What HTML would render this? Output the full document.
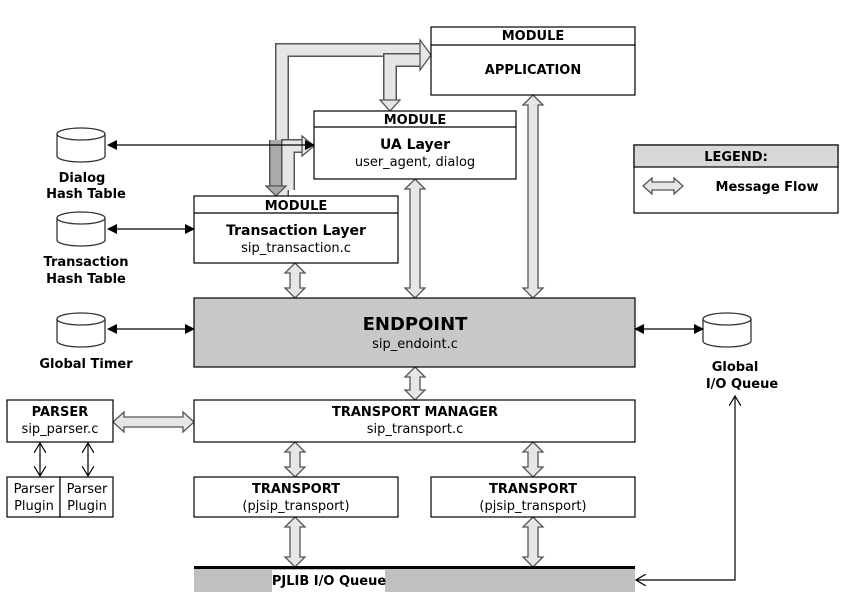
<!DOCTYPE html>
<html><head><meta charset="utf-8"><style>
html,body{margin:0;padding:0;background:#fff}
svg{display:block}
text{font-family:"DejaVu Sans","Liberation Sans",sans-serif;fill:#000}
.b{font-weight:bold}
</style></head><body>
<svg width="844" height="606" viewBox="0 0 844 606" xmlns="http://www.w3.org/2000/svg">
<defs>
<marker id="ah" markerWidth="10" markerHeight="10" refX="9" refY="5" orient="auto-start-reverse" markerUnits="userSpaceOnUse">
<path d="M0,0 L10,5 L0,10 z" fill="#000"/></marker>
<marker id="ao" markerWidth="12" markerHeight="12" refX="10" refY="6" orient="auto-start-reverse" markerUnits="userSpaceOnUse">
<path d="M0,0 L10,6 L0,12" fill="none" stroke="#000" stroke-width="1.2"/></marker>
<g id="cyl">
<path d="M0,6 L0,28 A24,6 0 0 0 48,28 L48,6" fill="#fff" stroke="#333" stroke-width="1.3"/>
<ellipse cx="24" cy="6" rx="24" ry="6" fill="#fff" stroke="#333" stroke-width="1.3"/>
</g>
</defs>

<!-- elbow fat arrows -->
<g fill="none" stroke-linejoin="miter">
<path d="M282,196 L282,50 L420,50" stroke="#555" stroke-width="14"/>
<path d="M282,196 L282,50 L420,50" stroke="#e6e6e6" stroke-width="11"/>
<path d="M390,104 L390,60 L420,60" stroke="#555" stroke-width="14"/>
<path d="M390,104 L390,60 L420,60" stroke="#e6e6e6" stroke-width="11"/>
<path d="M276,188 L276,140" stroke="#555" stroke-width="14"/>
<path d="M276,188 L276,140" stroke="#aaa" stroke-width="11"/>
<path d="M288,190 L288,146 L304,146" stroke="#555" stroke-width="14"/>
<path d="M288,190 L288,146 L304,146" stroke="#e6e6e6" stroke-width="11"/>
</g>
<polygon points="420,40 431,55 420,70" fill="#e6e6e6" stroke="#555" stroke-width="1.3"/>
<polygon points="380,100 400,100 390,111" fill="#e6e6e6" stroke="#555" stroke-width="1.3"/>
<polygon points="266,186 286,186 276,196" fill="#aaa" stroke="#555" stroke-width="1.3"/>
<polygon points="302,136 314,146 302,156" fill="#e6e6e6" stroke="#555" stroke-width="1.3"/>

<!-- vertical double fat arrows -->
<g fill="#e6e6e6" stroke="#555" stroke-width="1.3">
<polygon points="295,263 305,273 300,273 300,288 305,288 295,298 285,288 290,288 290,273 285,273"/>
<polygon points="415,179 425,189 420,189 420,288 425,288 415,298 405,288 410,288 410,189 405,189"/>
<polygon points="533,95 543,105 538,105 538,288 543,288 533,298 523,288 528,288 528,105 523,105"/>
<polygon points="415,367 425,377 420,377 420,390 425,390 415,400 405,390 410,390 410,377 405,377"/>
<polygon points="295,442 305,452 300,452 300,467 305,467 295,477 285,467 290,467 290,452 285,452"/>
<polygon points="533,442 543,452 538,452 538,467 543,467 533,477 523,467 528,467 528,452 523,452"/>
<polygon points="295,517 305,527 300,527 300,557 305,557 295,567 285,557 290,557 290,527 285,527"/>
<polygon points="533,517 543,527 538,527 538,557 543,557 533,567 523,557 528,557 528,527 523,527"/>
<polygon points="113,422 124,412 124,417 183,417 183,412 194,422 183,432 183,427 124,427 124,432"/>
</g>

<!-- boxes -->
<g fill="#fff" stroke="#000" stroke-width="1.2">
<rect x="431" y="27" width="204" height="68"/><line x1="431" y1="45" x2="635" y2="45"/>
<rect x="314" y="111" width="202" height="68"/><line x1="314" y1="127" x2="516" y2="127"/>
<rect x="194" y="196" width="204" height="67"/><line x1="194" y1="213" x2="398" y2="213"/>
<rect x="194" y="298" width="441" height="69" fill="#c8c8c8"/>
<rect x="194" y="400" width="441" height="42"/>
<rect x="7" y="400" width="106" height="42"/>
<rect x="7" y="477" width="53" height="40"/><rect x="60" y="477" width="53" height="40"/>
<rect x="194" y="477" width="204" height="40"/>
<rect x="431" y="477" width="204" height="40"/>
<rect x="634" y="145" width="204" height="68"/>
<rect x="634" y="145" width="204" height="22" fill="#d8d8d8"/>
</g>
<polygon points="643,186 652,178 652,182 674,182 674,178 683,186 674,194 674,190 652,190 652,194" fill="#e6e6e6" stroke="#555" stroke-width="1.3"/>
<rect x="194" y="568" width="441" height="24" fill="#c0c0c0"/>
<rect x="194" y="566" width="441" height="3" fill="#000"/>
<rect x="272" y="570" width="113" height="22" fill="#fff"/>

<!-- cylinders -->
<use href="#cyl" x="57" y="128"/>
<use href="#cyl" x="57" y="212"/>
<use href="#cyl" x="57" y="313"/>
<use href="#cyl" x="703" y="313"/>

<!-- thin arrows -->
<g stroke="#000" stroke-width="1.2" fill="none">
<line x1="108" y1="145" x2="314" y2="145" marker-start="url(#ah)" marker-end="url(#ah)"/>
<line x1="108" y1="229" x2="194" y2="229" marker-start="url(#ah)" marker-end="url(#ah)"/>
<line x1="108" y1="329" x2="194" y2="329" marker-start="url(#ah)" marker-end="url(#ah)"/>
<line x1="635" y1="329" x2="703" y2="329" marker-start="url(#ah)" marker-end="url(#ah)"/>
<polyline points="735,396 735,580 636,580" marker-start="url(#ao)" marker-end="url(#ao)"/>
<line x1="40" y1="443" x2="40" y2="476" marker-start="url(#ao)" marker-end="url(#ao)"/>
<line x1="88" y1="443" x2="88" y2="476" marker-start="url(#ao)" marker-end="url(#ao)"/>
</g>

<!-- text -->
<g text-anchor="middle" font-size="13">
<text x="533" y="40" class="b">MODULE</text>
<text x="533" y="74" class="b">APPLICATION</text>
<text x="415" y="124" class="b">MODULE</text>
<text x="415" y="149" class="b" font-size="14">UA Layer</text>
<text x="415" y="166">user_agent, dialog</text>
<text x="296" y="210" class="b">MODULE</text>
<text x="296" y="235" class="b" font-size="14">Transaction Layer</text>
<text x="296" y="252">sip_transaction.c</text>
<text x="415" y="330" class="b" font-size="18">ENDPOINT</text>
<text x="415" y="348">sip_endoint.c</text>
<text x="415" y="416" class="b">TRANSPORT MANAGER</text>
<text x="415" y="433">sip_transport.c</text>
<text x="60" y="416" class="b">PARSER</text>
<text x="60" y="433">sip_parser.c</text>
<text x="34" y="493">Parser</text><text x="34" y="510">Plugin</text>
<text x="87" y="493">Parser</text><text x="87" y="510">Plugin</text>
<text x="296" y="493" class="b">TRANSPORT</text>
<text x="296" y="510">(pjsip_transport)</text>
<text x="533" y="493" class="b">TRANSPORT</text>
<text x="533" y="510">(pjsip_transport)</text>
<text x="329" y="585" class="b">PJLIB I/O Queue</text>
<text x="736" y="161" class="b">LEGEND:</text>
<text x="767" y="191" class="b">Message Flow</text>
<text x="82" y="182" class="b">Dialog</text>
<text x="86" y="198" class="b">Hash Table</text>
<text x="86" y="266" class="b">Transaction</text>
<text x="86" y="283" class="b">Hash Table</text>
<text x="86" y="368" class="b">Global Timer</text>
<text x="735" y="371" class="b">Global</text>
<text x="742" y="388" class="b">I/O Queue</text>
</g>
</svg>
</body></html>
